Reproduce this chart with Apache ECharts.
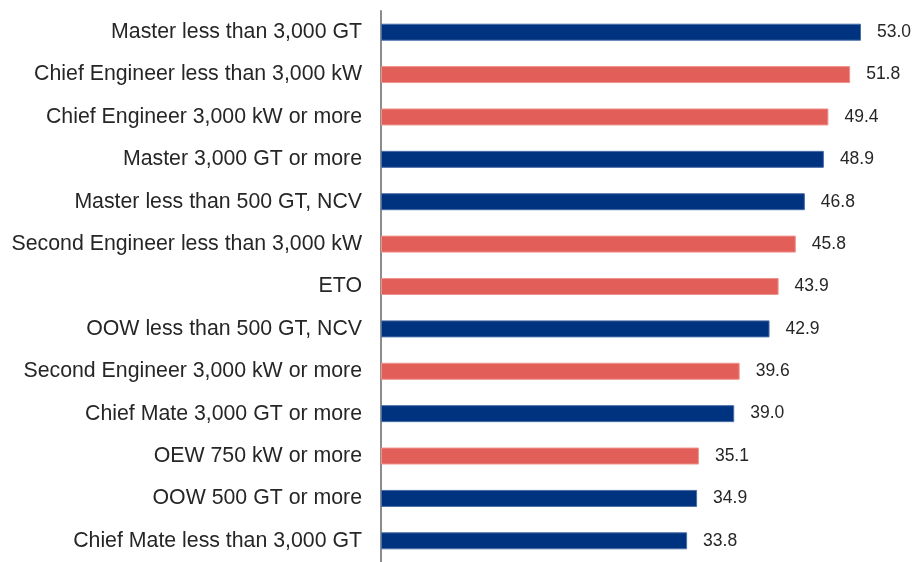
<!DOCTYPE html>
<html><head><meta charset="utf-8">
<script src="https://cdn.jsdelivr.net/npm/echarts@6/dist/echarts.min.js"></script>
<style>html,body{margin:0;padding:0;background:#fff}#c{width:917px;height:562px}</style>
</head><body><div id="c"></div>
<script>
const categories = [
  "Master less than 3,000 GT",
  "Chief Engineer less than 3,000 kW",
  "Chief Engineer 3,000 kW or more",
  "Master 3,000 GT or more",
  "Master less than 500 GT, NCV",
  "Second Engineer less than 3,000 kW",
  "ETO",
  "OOW less than 500 GT, NCV",
  "Second Engineer 3,000 kW or more",
  "Chief Mate 3,000 GT or more",
  "OEW 750 kW or more",
  "OOW 500 GT or more",
  "Chief Mate less than 3,000 GT"
];
const values = [53.0, 51.8, 49.4, 48.9, 46.8, 45.8, 43.9, 42.9, 39.6, 39.0, 35.1, 34.9, 33.8];
const department = ["deck","engine","engine","deck","deck","engine","engine","deck","engine","deck","engine","deck","deck"];

const colors = {deck: "#00337F", engine: "#E15F58"};
const borders = {deck: "#4A6EA8", engine: "#F0938D"};

const chart = echarts.init(document.getElementById('c'), null, {renderer: 'canvas'});
chart.setOption({
  animation: false,
  grid: {left: 381, top: 11, height: 559, right: 10.7, containLabel: false},
  xAxis: {type: 'value', min: 0, max: 58, show: false},
  yAxis: {
    type: 'category', data: categories, inverse: true,
    axisLine: {show: true, lineStyle: {color: '#8C8C8C', width: 2}},
    axisTick: {show: false},
    axisLabel: {color: '#262626', fontSize: 21.3, fontFamily: 'Liberation Sans, Arial', margin: 19}
  },
  series: [{
    type: 'bar', barWidth: 17,
    data: values.map((v, i) => ({value: v, itemStyle: {color: colors[department[i]], borderColor: borders[department[i]], borderWidth: 1}})),
    label: {show: true, position: 'right', distance: 16, formatter: p => p.value.toFixed(1),
      color: '#262626', fontSize: 17.5, fontFamily: 'Liberation Sans, Arial'}
  }]
});
</script></body></html>
